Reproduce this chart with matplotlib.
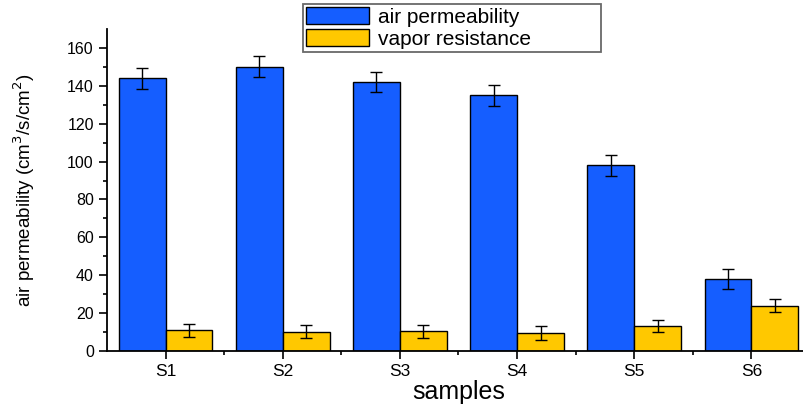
import matplotlib.pyplot as plt
import numpy as np

plt.rcParams['font.family'] = ['Liberation Sans', 'DejaVu Sans']

samples = ["S1", "S2", "S3", "S4", "S5", "S6"]
air_perm = [144, 150, 142, 135, 98, 38]
air_err = [5.5, 5.5, 5.5, 5.5, 5.5, 5.5]
vapor_res = [11, 10.2, 10.3, 9.5, 13.2, 24]
vapor_err = [3.5, 3.4, 3.5, 3.5, 3.4, 3.5]

x = np.arange(1, len(samples) + 1)
w = 0.4

fig = plt.figure(figsize=(8.04, 4.04), dpi=100)
ax = fig.add_axes([107 / 804, 53 / 404, 703 / 804, 322 / 404])

ekw = dict(ecolor="black", elinewidth=1, capsize=4.5, capthick=1)
b1 = ax.bar(x - w / 2, air_perm, w, color="#155EFF", edgecolor="black", linewidth=1,
            yerr=air_err, error_kw=ekw)
b2 = ax.bar(x + w / 2, vapor_res, w, color="#FFC800", edgecolor="black", linewidth=1,
            yerr=vapor_err, error_kw=ekw)

ax.set_xlim(0.5, 6.5)
ax.set_ylim(0, 170)
ax.set_yticks(range(0, 161, 20))
ax.set_yticks(range(10, 170, 20), minor=True)
ax.set_xticks(x)
ax.set_xticklabels(samples, fontsize=12.5)
ax.set_xticks(x[:-1] + 0.5, minor=True)
ax.tick_params(axis="both", which="major", direction="out", length=6, width=1.2)
ax.tick_params(axis="y", labelsize=11.5)
ax.tick_params(axis="both", which="minor", direction="out", length=3, width=1.2)
for s in ["top", "right"]:
    ax.spines[s].set_visible(False)
ax.spines["left"].set_linewidth(1.3)
ax.spines["bottom"].set_linewidth(1.3)

ax.set_xlabel("samples", fontsize=18)
ax.xaxis.set_label_coords(0.5, -0.09)
ax.set_ylabel("air permeability (cm$^3$/s/cm$^2$)", fontsize=13.5)
ax.yaxis.set_label_coords(-0.1, 0.5)

# legend stretched over a fixed-width box above the plot
leg = fig.legend([b1, b2], ["air permeability", "vapor resistance"],
                 loc="upper left", bbox_to_anchor=(303 / 804, 1 - 48 / 404, 298 / 804, 44 / 404),
                 mode="expand", fontsize=15, frameon=True, fancybox=False, edgecolor="#444444",
                 handlelength=3.0, handleheight=0.85, handletextpad=0.45,
                 borderpad=0.15, labelspacing=0.12, borderaxespad=0)
leg.get_frame().set_linewidth(1.3)

fig.savefig("out.png", dpi=100)
